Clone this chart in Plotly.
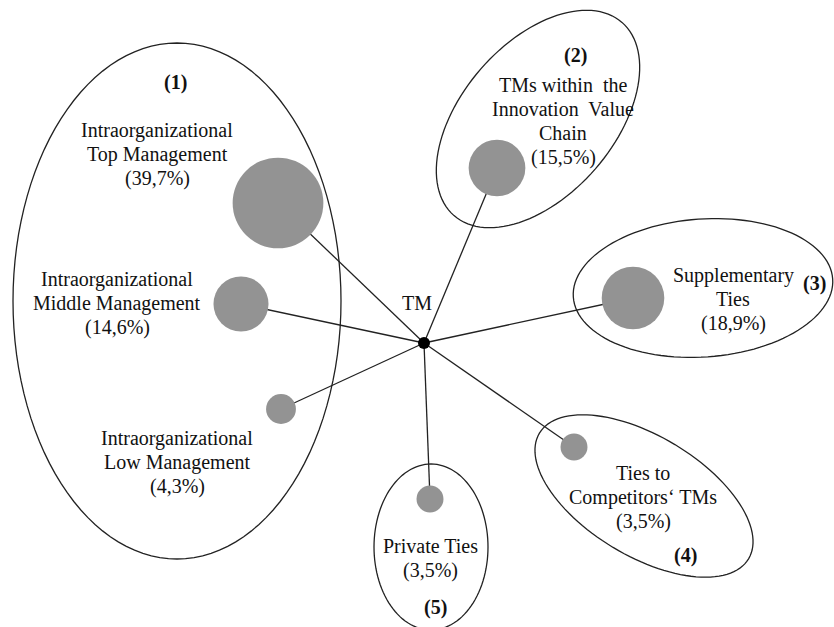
import numpy as np
import plotly.graph_objects as go

# ---- data ----
node_names = [
    "Intraorganizational<br>Top Management",
    "Intraorganizational<br>Middle Management",
    "Intraorganizational<br>Low Management",
    "TMs within  the<br>Innovation  Value<br>Chain",
    "Supplementary<br>Ties",
    "Ties to<br>Competitors\u2018 TMs",
    "Private Ties",
]
node_share = [39.7, 14.6, 4.3, 15.5, 18.9, 3.5, 3.5]
group_labels = ["(1)", "(2)", "(3)", "(4)", "(5)"]
center_label = "TM"

# ---- layout (pixel coordinates, y downward) ----
node_x = [278, 241, 281, 497, 633, 574, 430]
node_y = [203, 304, 409, 168, 298, 447, 499]
label_x = [157, 117, 177, 563, 733, 643, 430]
label_y0 = [130, 279, 438, 85, 275, 473, 546]
line_gap = 24
center_xy = (424, 343)
group_pos = [(175, 82), (575, 55), (814, 283), (685, 555), (435, 607)]
# ellipse: cx, cy, a, b, angle(deg, screen coords)
ellipses = [
    (177, 301, 164, 258, 0),
    (538, 119, 128, 76, -49),
    (703, 288, 130, 69, -4),
    (644, 496, 122, 60, 31),
    (431, 547, 57, 83, 0),
]

GREY = "#939393"
TXT = "#111111"
FONT = "Liberation Serif"
FS = 20

fig = go.Figure()

# edges
for x, y in zip(node_x, node_y):
    fig.add_trace(go.Scatter(x=[center_xy[0], x], y=[center_xy[1], y], mode="lines",
                             line=dict(color="#222222", width=1.3), hoverinfo="skip",
                             showlegend=False))

# nodes
sizes = [14.4 * np.sqrt(p) for p in node_share]
fig.add_trace(go.Scatter(x=node_x, y=node_y, mode="markers",
                         marker=dict(size=sizes, color=GREY, opacity=1, line=dict(width=0)),
                         showlegend=False, hoverinfo="skip"))
# center
fig.add_trace(go.Scatter(x=[center_xy[0]], y=[center_xy[1]], mode="markers",
                         marker=dict(size=12, color="black", opacity=1), showlegend=False,
                         hoverinfo="skip"))

# ellipses
shapes = []
t = np.linspace(0, 2 * np.pi, 121)
for cx, cy, a, b, ang in ellipses:
    th = np.deg2rad(ang)
    xs = cx + a * np.cos(t) * np.cos(th) - b * np.sin(t) * np.sin(th)
    ys = cy + a * np.cos(t) * np.sin(th) + b * np.sin(t) * np.cos(th)
    path = "M " + " L ".join(f"{xx:.2f},{yy:.2f}" for xx, yy in zip(xs, ys)) + " Z"
    shapes.append(dict(type="path", path=path, xref="x", yref="y",
                       line=dict(color="#222222", width=1.3), layer="below"))

annotations = []
for name, p, lx, ly in zip(node_names, node_share, label_x, label_y0):
    lines = name.split("<br>") + [f"({p:.1f}%)".replace(".", ",")]
    for i, ln in enumerate(lines):
        annotations.append(dict(x=lx, y=ly + i * line_gap, text=ln, showarrow=False,
                                xref="x", yref="y",
                                font=dict(family=FONT, size=FS, color=TXT)))
for g, (gx, gy) in zip(group_labels, group_pos):
    annotations.append(dict(x=gx, y=gy, text=f"<b>{g}</b>", showarrow=False,
                            xref="x", yref="y", font=dict(family=FONT, size=FS, color=TXT)))
annotations.append(dict(x=417, y=303, text=center_label, showarrow=False, xref="x", yref="y",
                        font=dict(family=FONT, size=FS, color=TXT)))

fig.update_layout(
    width=834, height=627, margin=dict(l=0, r=0, t=0, b=0),
    paper_bgcolor="white", plot_bgcolor="white",
    xaxis=dict(range=[0, 834], visible=False, fixedrange=True),
    yaxis=dict(range=[627, 0], visible=False, fixedrange=True),
    shapes=shapes, annotations=annotations,
)

fig.write_html("out.html", config={"displayModeBar": False},
               post_script="document.body.style.margin='0';document.body.style.overflow='hidden';")
